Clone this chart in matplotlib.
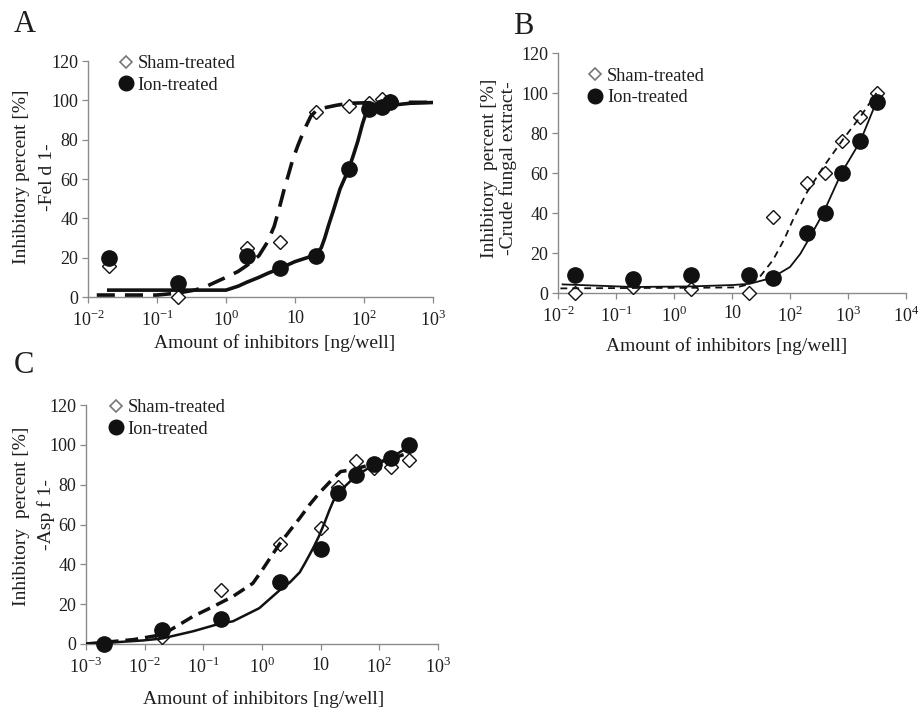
import matplotlib
matplotlib.use('Agg')
import matplotlib.pyplot as plt
from matplotlib.lines import Line2D
from matplotlib.ticker import NullLocator

plt.rcParams['font.family'] = ['Liberation Serif', 'DejaVu Serif']
plt.rcParams['mathtext.fontset'] = 'custom'
plt.rcParams['mathtext.rm'] = 'Liberation Serif'

# ---------------- Data ----------------
# Panel A : Fel d 1
a_x = [0.02, 0.2, 2, 6, 20, 60, 120, 180, 240]
a_sham = [16, 0, 25, 28, 94, 97, 98.5, 100.5, 99.5]
a_ion = [20, 7, 21, 15, 21, 65, 95.5, 96.7, 99.3]
a_fit_sham_x = [0.0134, 0.1, 0.2, 0.35, 0.49, 0.75, 1.0, 1.5, 2, 3, 4, 5, 6, 7, 8, 9.3, 11,
                12.4, 14.5, 17, 20, 25, 40, 60, 186, 1300]
a_fit_sham_y = [1.0, 1.0, 2.0, 3.5, 5.0, 8.0, 10.0, 13, 16, 21, 28, 36, 46, 55, 62, 70, 77,
                81.5, 87, 92, 94.5, 96, 97.5, 98.5, 99, 99]
a_fit_ion_x = [0.02, 1.0, 1.5, 2.0, 3, 4, 6.0, 10, 15, 20, 24, 27, 31, 36, 45, 60, 70, 81, 95,
               107, 130, 180, 265, 460, 1230]
a_fit_ion_y = [3.5, 3.5, 5.5, 7.5, 10, 12, 14.5, 18, 20, 21.5, 25, 30, 37, 44, 55, 65, 72, 79,
               88, 93.5, 96, 97, 97.6, 98.5, 99]

# Panel B : crude fungal extract
b_x = [0.02, 0.2, 2, 20, 50, 200, 400, 800, 1600, 3200]
b_sham = [0, 3, 2, 0, 38, 55, 60, 76, 88, 100]
b_ion = [9, 7, 9, 9, 7.5, 30, 40, 60, 76, 95.5]
b_fit_sham_x = [0.011, 0.2, 2, 12, 20, 30, 51, 80, 112, 193, 375, 830, 1620, 3100]
b_fit_sham_y = [2.3, 2.5, 2.6, 2.8, 4.5, 8, 16.5, 27, 36.5, 50, 63, 77, 88, 100]
b_fit_ion_x = [0.012, 0.2, 2, 10.5, 20, 48, 100, 150, 207, 375, 770, 1620, 3100]
b_fit_ion_y = [4.3, 3.0, 3.3, 4.0, 4.6, 7.5, 13, 19.5, 26.5, 40, 60, 75.7, 95.7]

# Panel C : Asp f 1
c_x = [0.002, 0.02, 0.2, 2, 10, 20, 40, 80, 160, 320]
c_sham = [0, 3.5, 27, 50, 58, 78.6, 92, 88.5, 89, 92.5]
c_ion = [0, 7, 12.5, 31, 47.5, 76, 85, 90.3, 93.3, 100]
c_fit_sham_x = [0.001, 0.0064, 0.02, 0.035, 0.067, 0.15, 0.32, 0.7, 1.0, 1.4, 2, 3, 4.4, 6.5,
                9.6, 15, 22, 35, 80, 160, 320]
c_fit_sham_y = [0, 2.2, 4.7, 8.9, 13.9, 18.9, 23.9, 30.5, 37, 43.5, 50.3, 57, 63.2, 70,
                76, 82, 86.6, 87.5, 90.5, 93, 96]
c_fit_ion_x = [0.001, 0.002, 0.0095, 0.02, 0.067, 0.19, 0.32, 0.9, 2, 3, 4.4, 5.5, 7.4, 9.3,
               11.7, 14, 16.3, 20, 29.6, 40, 80, 160, 320]
c_fit_ion_y = [0, 0.5, 1.8, 2.8, 6.4, 10.2, 11.4, 18, 27, 31, 36, 41, 48, 54,
               61, 67, 71.6, 76, 80.8, 84.4, 90, 93.8, 99]

xt_A = ['10$^{\\mathregular{-2}}$', '10$^{\\mathregular{-1}}$', '10$^{\\mathregular{0}}$', '10',
        '10$^{\\mathregular{2}}$', '10$^{\\mathregular{3}}$']
xt_B = xt_A + ['10$^{\\mathregular{4}}$']
xt_C = ['10$^{\\mathregular{-3}}$'] + xt_A
yticks = [0, 20, 40, 60, 80, 100, 120]
legend_labels = ['Sham-treated', 'Ion-treated']

# ---------------- Figure ----------------
W, H = 922, 714
fig = plt.figure(figsize=(W / 100, H / 100), dpi=100)
TXT = '#1e1e1e'
SP = '#8a8a8a'


def px_axes(l, t, r, b):
    return fig.add_axes([l / W, 1 - b / H, (r - l) / W, (b - t) / H])


def style(ax, e0, e1, labels):
    ax.set_xscale('log')
    ax.set_xlim(10.0 ** e0, 10.0 ** e1)
    ax.set_ylim(0, 120)
    ax.set_xticks([10.0 ** k for k in range(e0, e1 + 1)])
    ax.set_xticklabels(labels)
    ax.xaxis.set_minor_locator(NullLocator())
    ax.set_yticks(yticks)
    for s in ('top', 'right'):
        ax.spines[s].set_visible(False)
    for s in ('left', 'bottom'):
        ax.spines[s].set_color(SP)
        ax.spines[s].set_linewidth(1.0)
    ax.tick_params(axis='both', colors=SP, labelcolor=TXT, labelsize=13,
                   length=4, width=0.9, direction='out')
    ax.tick_params(axis='x', pad=5)
    ax.tick_params(axis='y', pad=3)


def draw(ax, x, sham, ion, fsx, fsy, fix, fiy, lw_s, lw_i, dash, ms_c, ms_d):
    ax.plot(x, sham, ls='none', marker='D', ms=ms_d, mfc='white', mec='#111',
            mew=1.0, clip_on=False, zorder=3)
    ax.plot(fsx, fsy, color='#111', lw=lw_s, dashes=dash, zorder=4,
            solid_capstyle='butt', dash_capstyle='butt', solid_joinstyle='round',
            dash_joinstyle='round')
    ax.plot(fix, fiy, color='#111', lw=lw_i, zorder=4, solid_joinstyle='round')
    ax.plot(x, ion, ls='none', marker='o', ms=ms_c, mfc='#111', mec='#111',
            clip_on=False, zorder=5)


def legend(ax, bx, by):
    h1 = Line2D([], [], ls='none', marker='D', ms=6.2, mfc='white', mec='#777', mew=1.2)
    h2 = Line2D([], [], ls='none', marker='o', ms=10.5, mfc='#111', mec='#111')
    leg = ax.legend([h1, h2], legend_labels, loc='upper left', bbox_to_anchor=(bx, by),
                    frameon=False, fontsize=13.2, handlelength=0.8, handletextpad=0.25,
                    labelspacing=0.25, borderpad=0, borderaxespad=0)
    for t in leg.get_texts():
        t.set_color(TXT)


def vtext(xpx, ypx, s):
    fig.text(xpx / W, 1 - ypx / H, s, rotation=90, ha='center', va='center',
             fontsize=14, color=TXT)


axA = px_axes(88, 61, 433, 297)
axB = px_axes(558, 53, 906, 293)
axC = px_axes(86, 405, 438, 644)

style(axA, -2, 3, xt_A)
style(axB, -2, 4, xt_B)
style(axC, -3, 3, xt_C)

draw(axA, a_x, a_sham, a_ion, a_fit_sham_x, a_fit_sham_y, a_fit_ion_x, a_fit_ion_y,
     2.6, 2.6, (5.0, 2.8), 11, 6.8)
draw(axB, b_x, b_sham, b_ion, b_fit_sham_x, b_fit_sham_y, b_fit_ion_x, b_fit_ion_y,
     1.3, 1.3, (3.8, 2.8), 11, 6.8)
draw(axC, c_x, c_sham, c_ion, c_fit_sham_x, c_fit_sham_y, c_fit_ion_x, c_fit_ion_y,
     2.5, 1.8, (3.7, 2.0), 11, 6.8)

legend(axA, 0.088, 1.025)
legend(axB, 0.085, 0.939)
legend(axC, 0.064, 1.024)

# axis titles (two lines each, drawn separately)
vtext(22, 177, 'Inhibitory percent [%]')
vtext(47, 177, '-Fel d 1-')
vtext(489, 168, 'Inhibitory  percent [%]')
vtext(508, 168, '-Crude fungal extract-')
vtext(21, 516, 'Inhibitory  percent [%]')
vtext(46, 514, '-Asp f 1-')

fig.text(275 / W, 1 - 343 / H, 'Amount of inhibitors [ng/well]', ha='center', va='center',
         fontsize=14, color=TXT)
fig.text(727 / W, 1 - 346 / H, 'Amount of inhibitors [ng/well]', ha='center', va='center',
         fontsize=14, color=TXT)
fig.text(264 / W, 1 - 699 / H, 'Amount of inhibitors [ng/well]', ha='center', va='center',
         fontsize=14, color=TXT)

# panel letters
fig.text(25 / W, 1 - 25 / H, 'A', ha='center', va='center', fontsize=22, color=TXT)
fig.text(523 / W, 1 - 27 / H, 'B', ha='center', va='center', fontsize=22, color=TXT)
fig.text(24 / W, 1 - 366 / H, 'C', ha='center', va='center', fontsize=22, color=TXT)

fig.savefig('out.png', dpi=100)
